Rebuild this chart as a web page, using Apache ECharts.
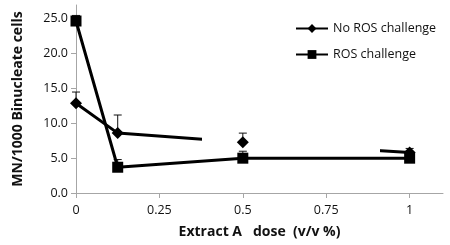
<!DOCTYPE html>
<html>
<head>
<meta charset="utf-8">
<script src="https://cdn.jsdelivr.net/npm/echarts@6/dist/echarts.min.js"></script>
<style>
  html, body { margin: 0; padding: 0; background: #fff; }
  #chart { width: 450px; height: 245px; }
</style>
</head>
<body>
<div id="chart"></div>
<script>
// doses (v/v %) and the two series
const doses = [0, 0.125, 0.5, 1];
const noRos = [12.9, 8.6, 7.3, 5.8];
const noRosErr = [14.5, 11.2, 8.6, 6.4];
const ros = [24.7, 3.7, 5.0, 5.0];
const rosErr = [25.5, 4.8, 6.0, 5.5];
const xTicks = [0, 0.25, 0.5, 0.75, 1];

const font = '"Open Sans", "Liberation Sans", sans-serif';

const pairs = (xs, ys) => xs.map((x, i) => [x, ys[i]]);
const errPoints = (xs, ys, tops) => xs.map((x, i) => [x, ys[i], tops[i]]);

// upper error bar with a small cap
function errorBar(params, api) {
    const p = api.coord([api.value(0), api.value(1)]);
    const t = api.coord([api.value(0), api.value(2)]);
    const style = { stroke: '#111', lineWidth: 1 };
    return {
        type: 'group',
        children: [
            { type: 'line', shape: { x1: p[0], y1: p[1], x2: t[0], y2: t[1] }, style: style },
            { type: 'line', shape: { x1: t[0] - 4, y1: t[1], x2: t[0] + 4, y2: t[1] }, style: style }
        ]
    };
}

const chart = echarts.init(document.getElementById('chart'));
chart.setOption({
    animation: false,
    textStyle: { fontFamily: font },
    grid: { left: 76, right: 7, top: 5, bottom: 52 },
    legend: {
        orient: 'vertical',
        left: 290,
        top: 17,
        itemWidth: 32,
        itemHeight: 11,
        itemGap: 13,
        textStyle: { fontFamily: font, fontSize: 12.5, color: '#111' },
        data: ['No ROS challenge', 'ROS challenge']
    },
    visualMap: {
        show: false,
        type: 'piecewise',
        seriesIndex: 0,
        dimension: 0,
        pieces: [
            { lt: 0.377, color: '#000' },
            { gte: 0.377, lt: 0.912, color: 'rgba(0,0,0,0)' },
            { gte: 0.912, color: '#000' }
        ]
    },
    xAxis: {
        type: 'value',
        min: 0,
        max: 1.1,
        interval: 0.25,
        name: 'Extract A   dose  (v/v %)',
        nameLocation: 'middle',
        nameGap: 32,
        nameTextStyle: { fontFamily: font, fontSize: 14, fontWeight: 'bold', color: '#111' },
        axisLine: { lineStyle: { color: '#a6a6a6', width: 1 } },
        axisTick: { show: true, length: 5, lineStyle: { color: '#a6a6a6' } },
        axisLabel: {
            fontFamily: font, fontSize: 12.5, color: '#111', margin: 11,
            showMaxLabel: false,
            formatter: v => (xTicks.includes(v) ? String(v) : '')
        },
        splitLine: { show: false }
    },
    yAxis: {
        type: 'value',
        min: 0,
        max: 27,
        interval: 5,
        name: 'MN/1000 Binucleate cells',
        nameLocation: 'middle',
        nameGap: 51,
        nameTextStyle: { fontFamily: font, fontSize: 14, fontWeight: 'bold', color: '#111' },
        axisLine: { show: true, lineStyle: { color: '#a6a6a6', width: 1 } },
        axisTick: { show: true, length: 5, lineStyle: { color: '#a6a6a6' } },
        axisLabel: {
            fontFamily: font, fontSize: 12.5, color: '#111', margin: 8,
            showMaxLabel: false,
            formatter: v => v.toFixed(1)
        },
        splitLine: { show: false }
    },
    series: [
        {
            name: 'No ROS challenge',
            type: 'line',
            data: pairs(doses, noRos),
            symbol: 'diamond',
            symbolSize: 12,
            showSymbol: false,
            lineStyle: { width: 3 },
            itemStyle: { color: '#000' },
            z: 3
        },
        {
            name: 'ROS challenge',
            type: 'line',
            data: pairs(doses, ros),
            symbol: 'rect',
            symbolSize: 11,
            lineStyle: { width: 3, color: '#000' },
            itemStyle: { color: '#000' },
            z: 3
        },
        {
            type: 'scatter',
            data: pairs(doses, noRos),
            symbol: 'diamond',
            symbolSize: 12,
            itemStyle: { color: '#000', opacity: 1 },
            z: 4
        },
        {
            type: 'custom',
            renderItem: errorBar,
            data: errPoints(doses, noRos, noRosErr),
            z: 2
        },
        {
            type: 'custom',
            renderItem: errorBar,
            data: errPoints(doses, ros, rosErr),
            z: 2
        }
    ]
});
</script>
</body>
</html>
